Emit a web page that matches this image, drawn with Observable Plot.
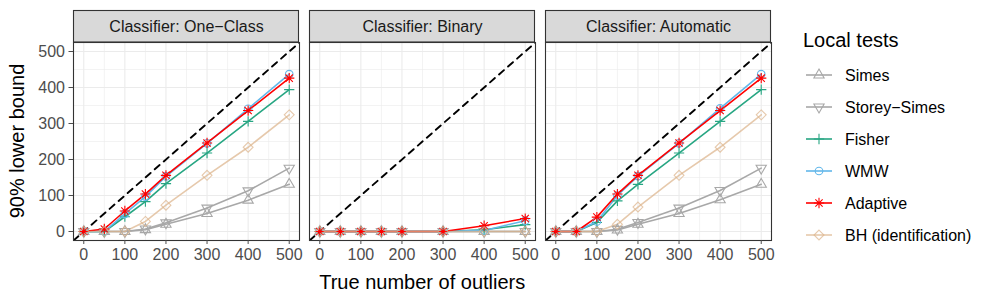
<!DOCTYPE html>
<html>
<head>
<meta charset="utf-8">
<script src="https://cdn.jsdelivr.net/npm/d3@7"></script>
<script src="https://cdn.jsdelivr.net/npm/@observablehq/plot@0.6"></script>
<style>
  html, body { margin: 0; padding: 0; background: #fff; }
  #wrap { position: relative; width: 996px; height: 299px; font-family: "Liberation Sans", Arial, sans-serif; }
  #wrap svg { position: absolute; top: 0; }
</style>
</head>
<body>
<div id="wrap"></div>
<script>
// ---------- data ----------
const outliers = [0, 50, 100, 150, 200, 300, 400, 500];
const classifiers = ["One\u2212Class", "Binary", "Automatic"];
const tests = ["Simes", "Storey\u2212Simes", "Fisher", "WMW", "Adaptive", "BH (identification)"];
const testColors = ["#A8A8A8", "#A8A8A8", "#27A683", "#62B7EA", "#FF0000", "#DDB48C"];
const testOpacity = [1, 1, 1, 1, 1, 0.72];

const xTicks = [0, 100, 200, 300, 400, 500];
const xMinorTicks = [50, 150, 250, 350, 450];
const yTicks = [0, 100, 200, 300, 400, 500];
const yMinorTicks = [50, 150, 250, 350, 450];
const axisExtent = [-25, 525];

// One-Class classifier
const oneClassSimes    = [0, 0, 0, 5, 20, 50, 87, 131];
const oneClassStorey   = [0, 0, 0, 7, 24, 65, 113, 176];
const oneClassFisher   = [0, 0, 41, 83, 133, 218, 306, 394];
const oneClassWMW      = [0, 0, 49, 97, 153, 245, 341, 437];
const oneClassAdaptive = [0, 7, 57, 104, 156, 246, 336, 426];
const oneClassBH       = [0, 0, 0, 28, 73, 156, 234, 324];

// Binary classifier
const binarySimes    = [0, 0, 0, 0, 0, 0, 0, 0];
const binaryStorey   = [0, 0, 0, 0, 0, 0, 0, 0];
const binaryFisher   = [0, 0, 0, 0, 0, 0, 5, 19];
const binaryWMW      = [0, 0, 0, 0, 0, 0, 3, 30];
const binaryAdaptive = [0, 0, 0, 0, 0, 0, 16, 36];
const binaryBH       = [0, 0, 0, 0, 0, 0, 0, 0];

// Automatic classifier
const autoSimes    = [0, 0, 0, 4, 20, 50, 88, 131];
const autoStorey   = [0, 0, 0, 6, 25, 65, 114, 176];
const autoFisher   = [0, 0, 25, 85, 131, 218, 306, 394];
const autoWMW      = [0, 0, 28, 100, 154, 245, 342, 437];
const autoAdaptive = [0, 0, 40, 104, 156, 246, 336, 426];
const autoBH       = [0, 0, 0, 20, 68, 156, 234, 324];

// ---------- table ----------
const seriesByClassifier = [
  [oneClassSimes, oneClassStorey, oneClassFisher, oneClassWMW, oneClassAdaptive, oneClassBH],
  [binarySimes, binaryStorey, binaryFisher, binaryWMW, binaryAdaptive, binaryBH],
  [autoSimes, autoStorey, autoFisher, autoWMW, autoAdaptive, autoBH]
];
const rows = [];
classifiers.forEach((c, ci) => {
  tests.forEach((t, ti) => {
    seriesByClassifier[ci][ti].forEach((v, i) => {
      rows.push({classifier: c, test: t, x: outliers[i], y: v, op: testOpacity[ti]});
    });
  });
});
const solidRows = rows.filter(d => d.op === 1);
const fadedRows = rows.filter(d => d.op !== 1);
const fadedOpacity = testOpacity[5];

// ---------- symbols (ggplot shapes 2, 6, 3, 1, 8, 5) ----------
const triUp = {draw(ctx, size) {
  const y = -Math.sqrt(size / (3 * Math.sqrt(3)));
  ctx.moveTo(0, y * 2); ctx.lineTo(-Math.sqrt(3) * y, -y); ctx.lineTo(Math.sqrt(3) * y, -y); ctx.closePath();
}};
const triDown = {draw(ctx, size) {
  const y = -Math.sqrt(size / (3 * Math.sqrt(3)));
  ctx.moveTo(0, -y * 2); ctx.lineTo(-Math.sqrt(3) * y, y); ctx.lineTo(Math.sqrt(3) * y, y); ctx.closePath();
}};
const plusSym = {draw(ctx, size) {
  const r = Math.sqrt(size / Math.PI) * 1.35;
  ctx.moveTo(-r, 0); ctx.lineTo(r, 0); ctx.moveTo(0, -r); ctx.lineTo(0, r);
}};
const circleSym = {draw(ctx, size) {
  const r = Math.sqrt(size / Math.PI);
  ctx.moveTo(r, 0); ctx.arc(0, 0, r, 0, 2 * Math.PI);
}};
const starSym = {draw(ctx, size) {
  const r = Math.sqrt(size / Math.PI) * 1.35, d = r * Math.SQRT1_2;
  ctx.moveTo(-r, 0); ctx.lineTo(r, 0); ctx.moveTo(0, -r); ctx.lineTo(0, r);
  ctx.moveTo(-d, -d); ctx.lineTo(d, d); ctx.moveTo(-d, d); ctx.lineTo(d, -d);
}};
const diamondSym = {draw(ctx, size) {
  const r = Math.sqrt(size / Math.PI) * 1.3;
  ctx.moveTo(0, -r); ctx.lineTo(r, 0); ctx.lineTo(0, r); ctx.lineTo(-r, 0); ctx.closePath();
}};
const testSymbols = [triUp, triDown, plusSym, circleSym, starSym, diamondSym];
const dotR = 3.8;

// ---------- chart ----------
const W = 790, H = 299, mL = 72, mR = 17.5, mT = 42, mB = 59;
const chart = Plot.plot({
  width: W, height: H,
  marginLeft: mL, marginRight: mR, marginTop: mT, marginBottom: mB,
  style: {fontFamily: '"Liberation Sans", Arial, sans-serif', color: "#4D4D4D", background: "transparent"},
  x: {domain: axisExtent},
  y: {domain: axisExtent},
  fx: {domain: classifiers, paddingInner: 0.0443, paddingOuter: 0, axis: null},
  color: {domain: tests, range: testColors},
  symbol: {domain: tests, range: testSymbols},
  marks: [
    Plot.frame({fill: "white"}),
    Plot.gridX({ticks: xMinorTicks, stroke: "#EBEBEB", strokeOpacity: 1, strokeWidth: 0.6}),
    Plot.gridY({ticks: yMinorTicks, stroke: "#EBEBEB", strokeOpacity: 1, strokeWidth: 0.6}),
    Plot.gridX({ticks: xTicks, stroke: "#EBEBEB", strokeOpacity: 1, strokeWidth: 1.1}),
    Plot.gridY({ticks: yTicks, stroke: "#EBEBEB", strokeOpacity: 1, strokeWidth: 1.1}),
    Plot.line(axisExtent, {x: d => d, y: d => d, stroke: "black", strokeWidth: 1.9, strokeDasharray: "6.5,5.5", clip: true}),
    Plot.line(solidRows, {x: "x", y: "y", fx: "classifier", z: "test", stroke: "test", strokeWidth: 1.6}),
    Plot.line(fadedRows, {x: "x", y: "y", fx: "classifier", z: "test", stroke: "test", strokeWidth: 1.6, strokeOpacity: fadedOpacity}),
    Plot.dot(solidRows, {x: "x", y: "y", fx: "classifier", symbol: "test", stroke: "test", fill: "none", r: dotR, strokeWidth: 1.1}),
    Plot.dot(fadedRows, {x: "x", y: "y", fx: "classifier", symbol: "test", stroke: "test", fill: "none", r: dotR, strokeWidth: 1.1, strokeOpacity: fadedOpacity}),
    Plot.frame({stroke: "#333333", strokeWidth: 1.1}),
    Plot.axisX({ticks: xTicks, tickSize: 4, tickPadding: 4, fontSize: 16, label: null}),
    Plot.axisY({ticks: yTicks, tickSize: 4.5, tickPadding: 4, fontSize: 16, label: null}),
    Plot.text(classifiers, {fx: d => d, text: d => "Classifier: " + d, frameAnchor: "top", lineAnchor: "middle", dy: -15.5, fontSize: 16, fill: "#1A1A1A"})
  ]
});

// tick colour like ggplot (grey20)
chart.querySelectorAll('[aria-label="x-axis tick"], [aria-label="y-axis tick"]').forEach(g => g.setAttribute("stroke", "#333333"));

// facet strips behind the labels
const fx = chart.scale("fx");
const svg = d3.select(chart);
const stripG = svg.insert("g", "g").attr("aria-label", "strips");
classifiers.forEach(c => {
  stripG.append("rect")
    .attr("x", fx.apply(c) + 0.5).attr("y", 10.5)
    .attr("width", fx.bandwidth - 1).attr("height", mT - 10.5)
    .attr("fill", "#D9D9D9").attr("stroke", "#333333").attr("stroke-width", 1.1);
});

// axis titles
svg.append("text")
  .attr("x", mL + (W - mL - mR) / 2).attr("y", 289)
  .attr("text-anchor", "middle").attr("font-size", 20).attr("fill", "#000")
  .text("True number of outliers");
svg.append("text")
  .attr("transform", `translate(24, ${mT + (H - mT - mB) / 2}) rotate(-90)`)
  .attr("text-anchor", "middle").attr("font-size", 20).attr("fill", "#000")
  .text("90% lower bound");

document.getElementById("wrap").appendChild(chart);
chart.style.left = "0px";

// ---------- legend ----------
const leg = d3.select("#wrap").append("svg")
  .attr("width", 206).attr("height", 299)
  .style("left", "790px")
  .attr("font-family", '"Liberation Sans", Arial, sans-serif');
leg.append("text").attr("x", 13).attr("y", 47).attr("font-size", 20).attr("fill", "#000").text("Local tests");
tests.forEach((t, i) => {
  const cy = 75 + 32 * i;
  const g = leg.append("g").attr("stroke-opacity", testOpacity[i]);
  g.append("line").attr("x1", 16).attr("x2", 42).attr("y1", cy).attr("y2", cy)
    .attr("stroke", testColors[i]).attr("stroke-width", 1.6);
  g.append("path").attr("transform", `translate(29,${cy})`)
    .attr("d", d3.symbol(testSymbols[i], Math.PI * dotR * dotR)())
    .attr("fill", "none").attr("stroke", testColors[i]).attr("stroke-width", 1.1);
  g.append("text").attr("x", 55).attr("y", cy).attr("dy", "0.36em")
    .attr("font-size", 16).attr("fill", "#000").text(t);
});
</script>
</body>
</html>
